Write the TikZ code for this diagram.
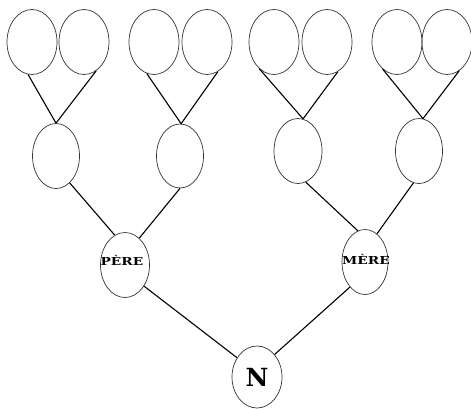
\documentclass[tikz,border=0pt]{standalone}
\usepackage{fontspec}
\newfontfamily\heavyserif{DejaVu Serif}
\usetikzlibrary{shapes.geometric}
\begin{document}
\begin{tikzpicture}[x=1pt,y=-1pt,
  oval/.style={ellipse,draw=black!80,line width=0.7pt,inner sep=0pt,minimum width=#1},
  oval/.default=50pt,
  link/.style={draw=black,line width=1.1pt},
  lbl/.style={font=\heavyserif\fontsize{11}{11}\selectfont\bfseries,inner sep=0pt}]
\useasboundingbox (0,0) rectangle (471,408);
% great-grandparents
\node[oval, minimum height=65pt] (a1) at (32,42) {};
\node[oval, minimum height=65pt] (a2) at (84,42) {};
\node[oval, minimum height=65pt] (a3) at (154,42) {};
\node[oval, minimum height=65pt] (a4) at (207,42) {};
\node[oval, minimum height=65pt] (a5) at (274,42) {};
\node[oval, minimum height=65pt] (a6) at (327,42) {};
\node[oval, minimum height=65pt] (a7) at (397,42) {};
\node[oval, minimum height=65pt] (a8) at (447,42) {};
% grandparents
\node[oval=47pt, minimum height=65pt] (g1) at (56,156) {};
\node[oval=47pt, minimum height=64pt] (g2) at (180,156) {};
\node[oval=48pt, minimum height=65pt] (g3) at (298,151) {};
\node[oval=47pt, minimum height=65pt] (g4) at (419,151) {};
% parents
\node[oval=49pt, minimum height=65pt] (p) at (125,265) {};
\node[oval=46pt, minimum height=65pt] (m) at (365,262) {};
\node[lbl] (pt) at (122,260) {\scalebox{1.25}[1]{PÈRE}};
\node[lbl] (mt) at (366,259) {\scalebox{1.25}[1]{MÈRE}};
% child
\node[oval=50pt, minimum height=62pt, font=\heavyserif\fontsize{25}{25}\selectfont\bfseries] (n) at (257,377) {N};
% links
\draw[link] (a1.-97) -- (g1.90);
\draw[link] (a2.-67) -- (g1.90);
\draw[link] (a3.-103) -- (g2.88);
\draw[link] (a4.-70) -- (g2.88);
\draw[link] (a5.-119) -- (g3.81);
\draw[link] (a6.-70) -- (g3.81);
\draw[link] (a7.-118) -- (g4.83);
\draw[link] (a8.-67) -- (g4.83);
\draw[link] (g1.-63) -- (p.109);
\draw[link] (g2.-90) -- (p.62);
\draw[link] (g3.-76) -- (m.103);
\draw[link] (g4.-100) -- (m.67);
\draw[link] (p.-48) -- (n.136);
\draw[link] (m.-121) -- (n.52);
\end{tikzpicture}
\end{document}
